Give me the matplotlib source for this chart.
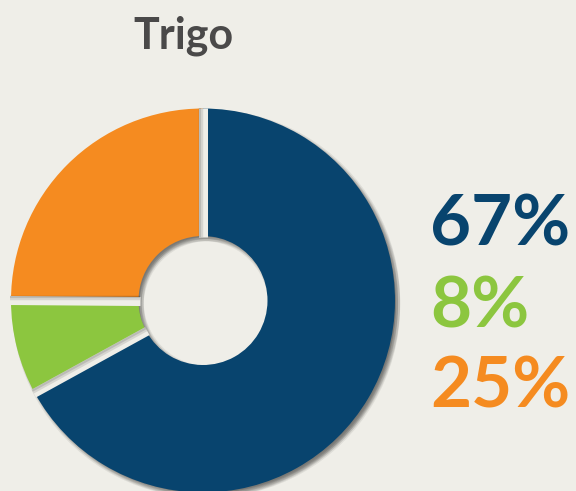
import matplotlib
matplotlib.use("Agg")
import matplotlib.pyplot as plt
import matplotlib.patheffects as pe
import numpy as np

# data
labels = ["Azul", "Verde", "Laranja"]
values = [67, 8, 25]
colors = ["#08446e", "#8cc63f", "#f58b20"]
title = "Trigo"

bg = "#efeee8"

fig = plt.figure(figsize=(5.76, 4.91), dpi=100, facecolor=bg)
ax = fig.add_axes([0, 0, 1, 1])
ax.set_facecolor(bg)

# data units are pixels of the canvas
cx, cy = 203, 190.5
R, r_in = 192, 64.5

# soft drop shadow: several faint offset copies
shadow = [pe.SimplePatchShadow(offset=(2.2 + dx, -2.2 + dy), shadow_rgbFace="k", alpha=0.07)
          for dx in (-1.5, 0, 1.5) for dy in (-1.5, 0, 1.5)]

sh, _ = ax.pie(values, startangle=90, counterclock=False, center=(cx, cy), radius=R,
               wedgeprops=dict(width=R - r_in, linewidth=0))
for w in sh:
    w.set_path_effects(shadow)

wedges, _ = ax.pie(values, colors=colors, startangle=90, counterclock=False,
                   center=(cx, cy), radius=R,
                   wedgeprops=dict(width=R - r_in, linewidth=0))

# gaps between the slices, with a bit of shadow on the upper-left side
for w in wedges:
    a = np.deg2rad(w.theta1)
    ux, uy = np.cos(a), np.sin(a)
    nx, ny = -uy, ux
    if -nx + ny < 0:
        nx, ny = -nx, -ny
    xs = np.array([cx + (r_in - 1) * ux, cx + (R + 1) * ux])
    ys = np.array([cy + (r_in - 1) * uy, cy + (R + 1) * uy])
    ax.plot(xs, ys, color=bg, lw=6.5, solid_capstyle="butt")
    for off, lw, al in [(2.2, 3.2, 0.10), (3.2, 1.6, 0.12)]:
        ax.plot(xs + off * nx, ys + off * ny, color="k", alpha=al, lw=lw,
                solid_capstyle="butt")

ax.set_xlim(0, 576)
ax.set_ylim(0, 491)
ax.set_aspect("equal")
ax.axis("off")

ax.text(183, 443, title, ha="center", va="baseline", fontsize=31,
        fontweight="bold", family="Lato", color="#4a4949")

ys = [246, 164, 84]
for v, c, y in zip(values, colors, ys):
    ax.text(430, y, f"{v}%", ha="left", va="baseline", fontsize=51,
            fontweight="bold", family="Lato", color=c)

fig.savefig("out.png", dpi=100, facecolor=bg)
